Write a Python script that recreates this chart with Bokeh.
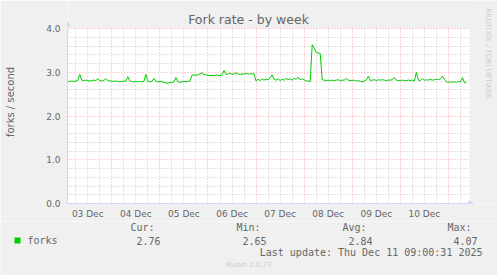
import math
from bokeh.plotting import figure
from bokeh.layouts import column
from bokeh.models import (FixedTicker, Label, Arrow, NormalHead, BoxAnnotation,
                          PrintfTickFormatter, Range1d, ColumnDataSource)
from bokeh.embed import file_html
from bokeh.resources import INLINE

# ---- data (hours since 03 Dec 00:00, forks/second) ----
start_hour = 2
day_dec03 = [2.79, 2.79, 2.80, 2.79, 2.80, 2.81, 2.95, 2.82, 2.81, 2.82, 2.81,
             2.80, 2.81, 2.82, 2.81, 2.85, 2.81, 2.80, 2.81, 2.86, 2.81, 2.80]
day_dec04 = [2.80, 2.79, 2.80, 2.79, 2.78, 2.79, 2.80, 2.79, 2.90, 2.80, 2.79, 2.78,
             2.79, 2.78, 2.79, 2.78, 2.79, 2.95, 2.79, 2.78, 2.79, 2.86, 2.79, 2.78]
day_dec05 = [2.79, 2.78, 2.77, 2.76, 2.75, 2.77, 2.76, 2.78, 2.88, 2.78, 2.77, 2.78,
             2.79, 2.78, 2.79, 2.80, 2.93, 2.94, 2.93, 2.94, 2.96, 2.99, 2.95, 2.94]
day_dec06 = [2.93, 2.92, 2.93, 2.92, 2.94, 2.93, 2.92, 2.94, 3.04, 2.95, 2.96, 2.98,
             2.95, 2.96, 2.99, 2.96, 2.95, 2.96, 2.96, 2.97, 2.96, 2.96, 2.97, 2.96]
day_dec07 = [2.80, 2.84, 2.81, 2.85, 2.82, 2.84, 2.83, 2.87, 2.94, 2.84, 2.82, 2.85,
             2.81, 2.84, 2.82, 2.86, 2.83, 2.85, 2.82, 2.86, 2.84, 2.89, 2.83, 2.85]
day_dec08 = [2.83, 2.80, 2.80, 2.79, 3.63, 3.55, 3.45, 3.44, 3.43, 2.83, 2.82, 2.81,
             2.82, 2.81, 2.82, 2.81, 2.82, 2.83, 2.81, 2.82, 2.82, 2.86, 2.82, 2.81]
day_dec09 = [2.81, 2.82, 2.80, 2.81, 2.79, 2.78, 2.80, 2.82, 2.91, 2.81, 2.82, 2.83,
             2.81, 2.83, 2.82, 2.83, 2.82, 2.81, 2.82, 2.82, 2.83, 2.88, 2.82, 2.81]
day_dec10 = [2.81, 2.82, 2.81, 2.81, 2.82, 2.81, 2.82, 2.80, 3.00, 2.82, 2.81, 2.86,
             2.82, 2.83, 2.82, 2.84, 2.82, 2.83, 2.84, 2.83, 2.85, 2.91, 2.84, 2.78]
day_dec11 = [2.77, 2.78, 2.77, 2.78, 2.77, 2.79, 2.78, 2.88, 2.76, 2.76]

forks = (day_dec03 + day_dec04 + day_dec05 + day_dec06 + day_dec07 +
         day_dec08 + day_dec09 + day_dec10 + day_dec11)
hours = [start_hour + i for i in range(len(forks))]

day_labels = ["03 Dec", "04 Dec", "05 Dec", "06 Dec", "07 Dec", "08 Dec", "09 Dec", "10 Dec"]
y_ticks = [0, 1, 2, 3, 4]

stat_names = ["Cur:", "Min:", "Avg:", "Max:"]
stat_values = ["2.76", "2.65", "2.84", "4.07"]
title_text = "Fork rate - by week"
y_label = "forks / second"
series_name = "forks"
last_update = "Last update: Thu Dec 11 09:00:31 2025"
munin_version = "Munin 2.0.73"
rrd_credit = "RRDTOOL / TOBI OETIKER"

# ---- geometry ----
W, H = 497, 275
H1 = 221                      # main chart height, legend below
FL, FR, FT, FB = 67, 468, 28, 203   # plot area in canvas px
X0, X1 = 1.9, 202.0           # hours shown in the plot area
Y0, Y1 = 0.0, 4.0
pxh = (FR - FL) / (X1 - X0)
pxv = (FB - FT) / (Y1 - Y0)
XE = X1 + (W - FR) / pxh      # frame extends to the right canvas edge
YE = Y1 + FT / pxv            # frame extends to the top canvas edge

FONT = "DejaVu Sans"
MONO = "DejaVu Sans Mono"
TXT = "#666666"
AXIS = "#CFD6F8"
BACK = "#F0F0F0"

p = figure(width=W, height=H1, output_backend="svg", toolbar_location=None,
           min_border_left=FL, min_border_right=0,
           min_border_top=0, min_border_bottom=H1 - FB,
           x_range=Range1d(X0, XE), y_range=Range1d(Y0, YE))
p.background_fill_color = "#FFFFFF"
p.border_fill_color = BACK
p.outline_line_color = None

# grids
day_bounds = [24 * k for k in range(1, 9)]
six_h = [6 * k for k in range(1, 34) if (6 * k) % 24 != 0]
p.xgrid[0].ticker = FixedTicker(ticks=day_bounds, minor_ticks=six_h)
p.ygrid[0].ticker = FixedTicker(ticks=[1, 2, 3, 4],
                                minor_ticks=[v / 5 for v in range(1, 20) if v % 5 != 0])
for g in (p.xgrid[0], p.ygrid[0]):
    g.grid_line_color = "#FF0000"
    g.grid_line_alpha = 0.35
    g.grid_line_dash = "1 2"
    g.grid_line_width = 1
    g.minor_grid_line_color = "#BBBBBB"
    g.minor_grid_line_alpha = 0.8
    g.minor_grid_line_dash = "1 2"

# axes
xa = p.xaxis[0]
xa.ticker = FixedTicker(ticks=[12 + 24 * k for k in range(len(day_labels))])
xa.major_label_overrides = {12 + 24 * k: lab for k, lab in enumerate(day_labels)}
xa.bounds = (X0, X1)
ya = p.yaxis[0]
ya.ticker = FixedTicker(ticks=y_ticks)
ya.formatter = PrintfTickFormatter(format="%.1f")
ya.bounds = (Y0, Y1)
for ax in (xa, ya):
    ax.axis_line_color = AXIS
    ax.major_tick_line_color = None
    ax.minor_tick_line_color = None
    ax.major_tick_out = 0
    ax.major_tick_in = 0
    ax.major_label_text_font = FONT
    ax.major_label_text_font_size = "9px"
    ax.major_label_text_color = TXT
xa.major_label_standoff = 5
ya.major_label_standoff = 7
ya.axis_label = y_label
ya.axis_label_text_font = FONT
ya.axis_label_text_font_size = "10px"
ya.axis_label_text_font_style = "normal"
ya.axis_label_text_color = TXT
ya.axis_label_standoff = 27

# data line
src = ColumnDataSource(dict(h=hours, v=forks))
p.line("h", "v", source=src, line_color="#00CC00", line_width=1)

# grey margins above / right of the plot area (cover the grid there)
p.add_layout(BoxAnnotation(left=X0, right=XE, bottom=Y1 + 0.6 / pxv, top=YE,
                           fill_color=BACK, fill_alpha=1.0, line_color=None))
p.add_layout(BoxAnnotation(left=X1 + 0.6 / pxh, right=XE, bottom=Y0, top=YE,
                           fill_color=BACK, fill_alpha=1.0, line_color=None))

# arrows on axes
p.add_layout(Arrow(x_start=X0 + 0.1, y_start=Y1 - 0.2, x_end=X0 + 0.1, y_end=Y1 + 7 / pxv,
                   line_color=AXIS, line_width=1,
                   end=NormalHead(size=5, fill_color=AXIS, line_color=AXIS)))
p.add_layout(Arrow(x_start=X1 - 5, y_start=Y0, x_end=X1 + 5 / pxh, y_end=Y0,
                   line_color=AXIS, line_width=1,
                   end=NormalHead(size=5, fill_color=AXIS, line_color=AXIS)))


def lab(fig, ox, oy, X, Y, text, size, font=FONT, color=TXT, align="left",
        baseline="middle", angle=0.0):
    fig.add_layout(Label(x=X - ox, y=oy - Y, x_units="screen", y_units="screen",
                         text=text, text_font=font, text_font_size=size,
                         text_color=color, text_align=align, text_baseline=baseline,
                         angle=angle))


lab(p, FL, FB, 248, 19, title_text, "12.5px", align="center")
lab(p, FL, FB, 487, 53, rrd_credit, "7px", color="#CCCCCC", align="center",
    angle=-math.pi / 2)

# ---- legend strip below ----
H2 = H - H1
q = figure(width=W, height=H2, output_backend="svg", toolbar_location=None,
           min_border=0, min_border_left=0, min_border_right=0,
           min_border_top=0, min_border_bottom=0,
           x_axis_type=None, y_axis_type=None,
           x_range=Range1d(0, W), y_range=Range1d(0, H2))
q.background_fill_color = BACK
q.border_fill_color = BACK
q.outline_line_color = None
q.grid.visible = False
for fig in (p, q):
    if "frame_align" in fig.properties():
        fig.frame_align = False

q.add_layout(BoxAnnotation(left=14, right=20, bottom=H - 243, top=H - 237,
                           left_units="screen", right_units="screen",
                           top_units="screen", bottom_units="screen",
                           fill_color="#00CC00", fill_alpha=1.0, line_color=None))
lab(q, 0, H, 27, 240, series_name, "10px", font=MONO)
stat_right = [160, 266, 372, 477]
for name, val, xr in zip(stat_names, stat_values, stat_right):
    lab(q, 0, H, xr - 6, 227, name, "10px", font=MONO, align="right")
    lab(q, 0, H, xr, 240, val, "10px", font=MONO, align="right")
lab(q, 0, H, 482, 252, last_update, "10px", font=MONO, align="right")
lab(q, 0, H, 248, 264, munin_version, "7px", color="#CCCCCC", align="center")

layout = column(p, q, spacing=0)
open("out.html", "w").write(file_html(layout, INLINE))
